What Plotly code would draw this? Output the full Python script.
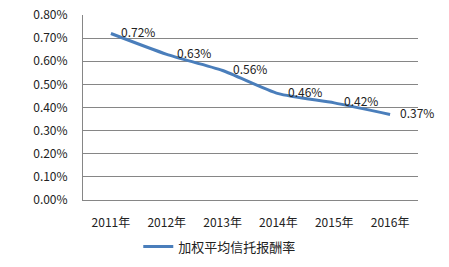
import plotly.graph_objects as go

years = ["2011年", "2012年", "2013年", "2014年", "2015年", "2016年"]
rates = [0.72, 0.63, 0.56, 0.46, 0.42, 0.37]
labels = ["0.72%", "0.63%", "0.56%", "0.46%", "0.42%", "0.37%"]
tick_vals = [0, 0.1, 0.2, 0.3, 0.4, 0.5, 0.6, 0.7, 0.8]
tick_text = ["0.00%", "0.10%", "0.20%", "0.30%", "0.40%", "0.50%", "0.60%", "0.70%", "0.80%"]
series_name = "加权平均信托报酬率"

FONT = "Noto Sans CJK SC"

fig = go.Figure()
fig.add_trace(go.Scatter(
    x=years, y=rates, name=series_name, mode="lines",
    line=dict(color="#4A7EBB", width=3, shape="spline", smoothing=0.6),
    cliponaxis=False,
))
for yr, v, t in zip(years, rates, labels):
    fig.add_annotation(x=yr, y=v, text=t, showarrow=False, xanchor="left",
                       yanchor="middle", xshift=8, yshift=2,
                       font=dict(size=12, color="#222222", family=FONT))

fig.update_layout(
    width=449, height=267,
    margin=dict(l=83, r=31, t=15, b=67, autoexpand=False),
    paper_bgcolor="white", plot_bgcolor="white",
    font=dict(family=FONT, size=12, color="#222222"),
    showlegend=True,
    legend=dict(orientation="h", x=0.165, xanchor="left", y=-0.252, yanchor="middle",
                font=dict(size=13, family=FONT, color="#222222"),
                itemwidth=30, bgcolor="rgba(0,0,0,0)"),
    xaxis=dict(type="category", showgrid=False, showline=True, linecolor="#868686",
               linewidth=1, ticks="", tickfont=dict(size=12), range=[-0.5, 5.5],
               ticklabelstandoff=12, automargin=False),
    yaxis=dict(range=[0, 0.8], tickvals=tick_vals, ticktext=tick_text,
               showgrid=True, gridcolor="#868686", gridwidth=1,
               showline=True, linecolor="#868686", linewidth=1,
               zeroline=False, ticks="", tickfont=dict(size=12),
               ticklabelstandoff=12, automargin=False),
)

fig.write_html("out.html")
